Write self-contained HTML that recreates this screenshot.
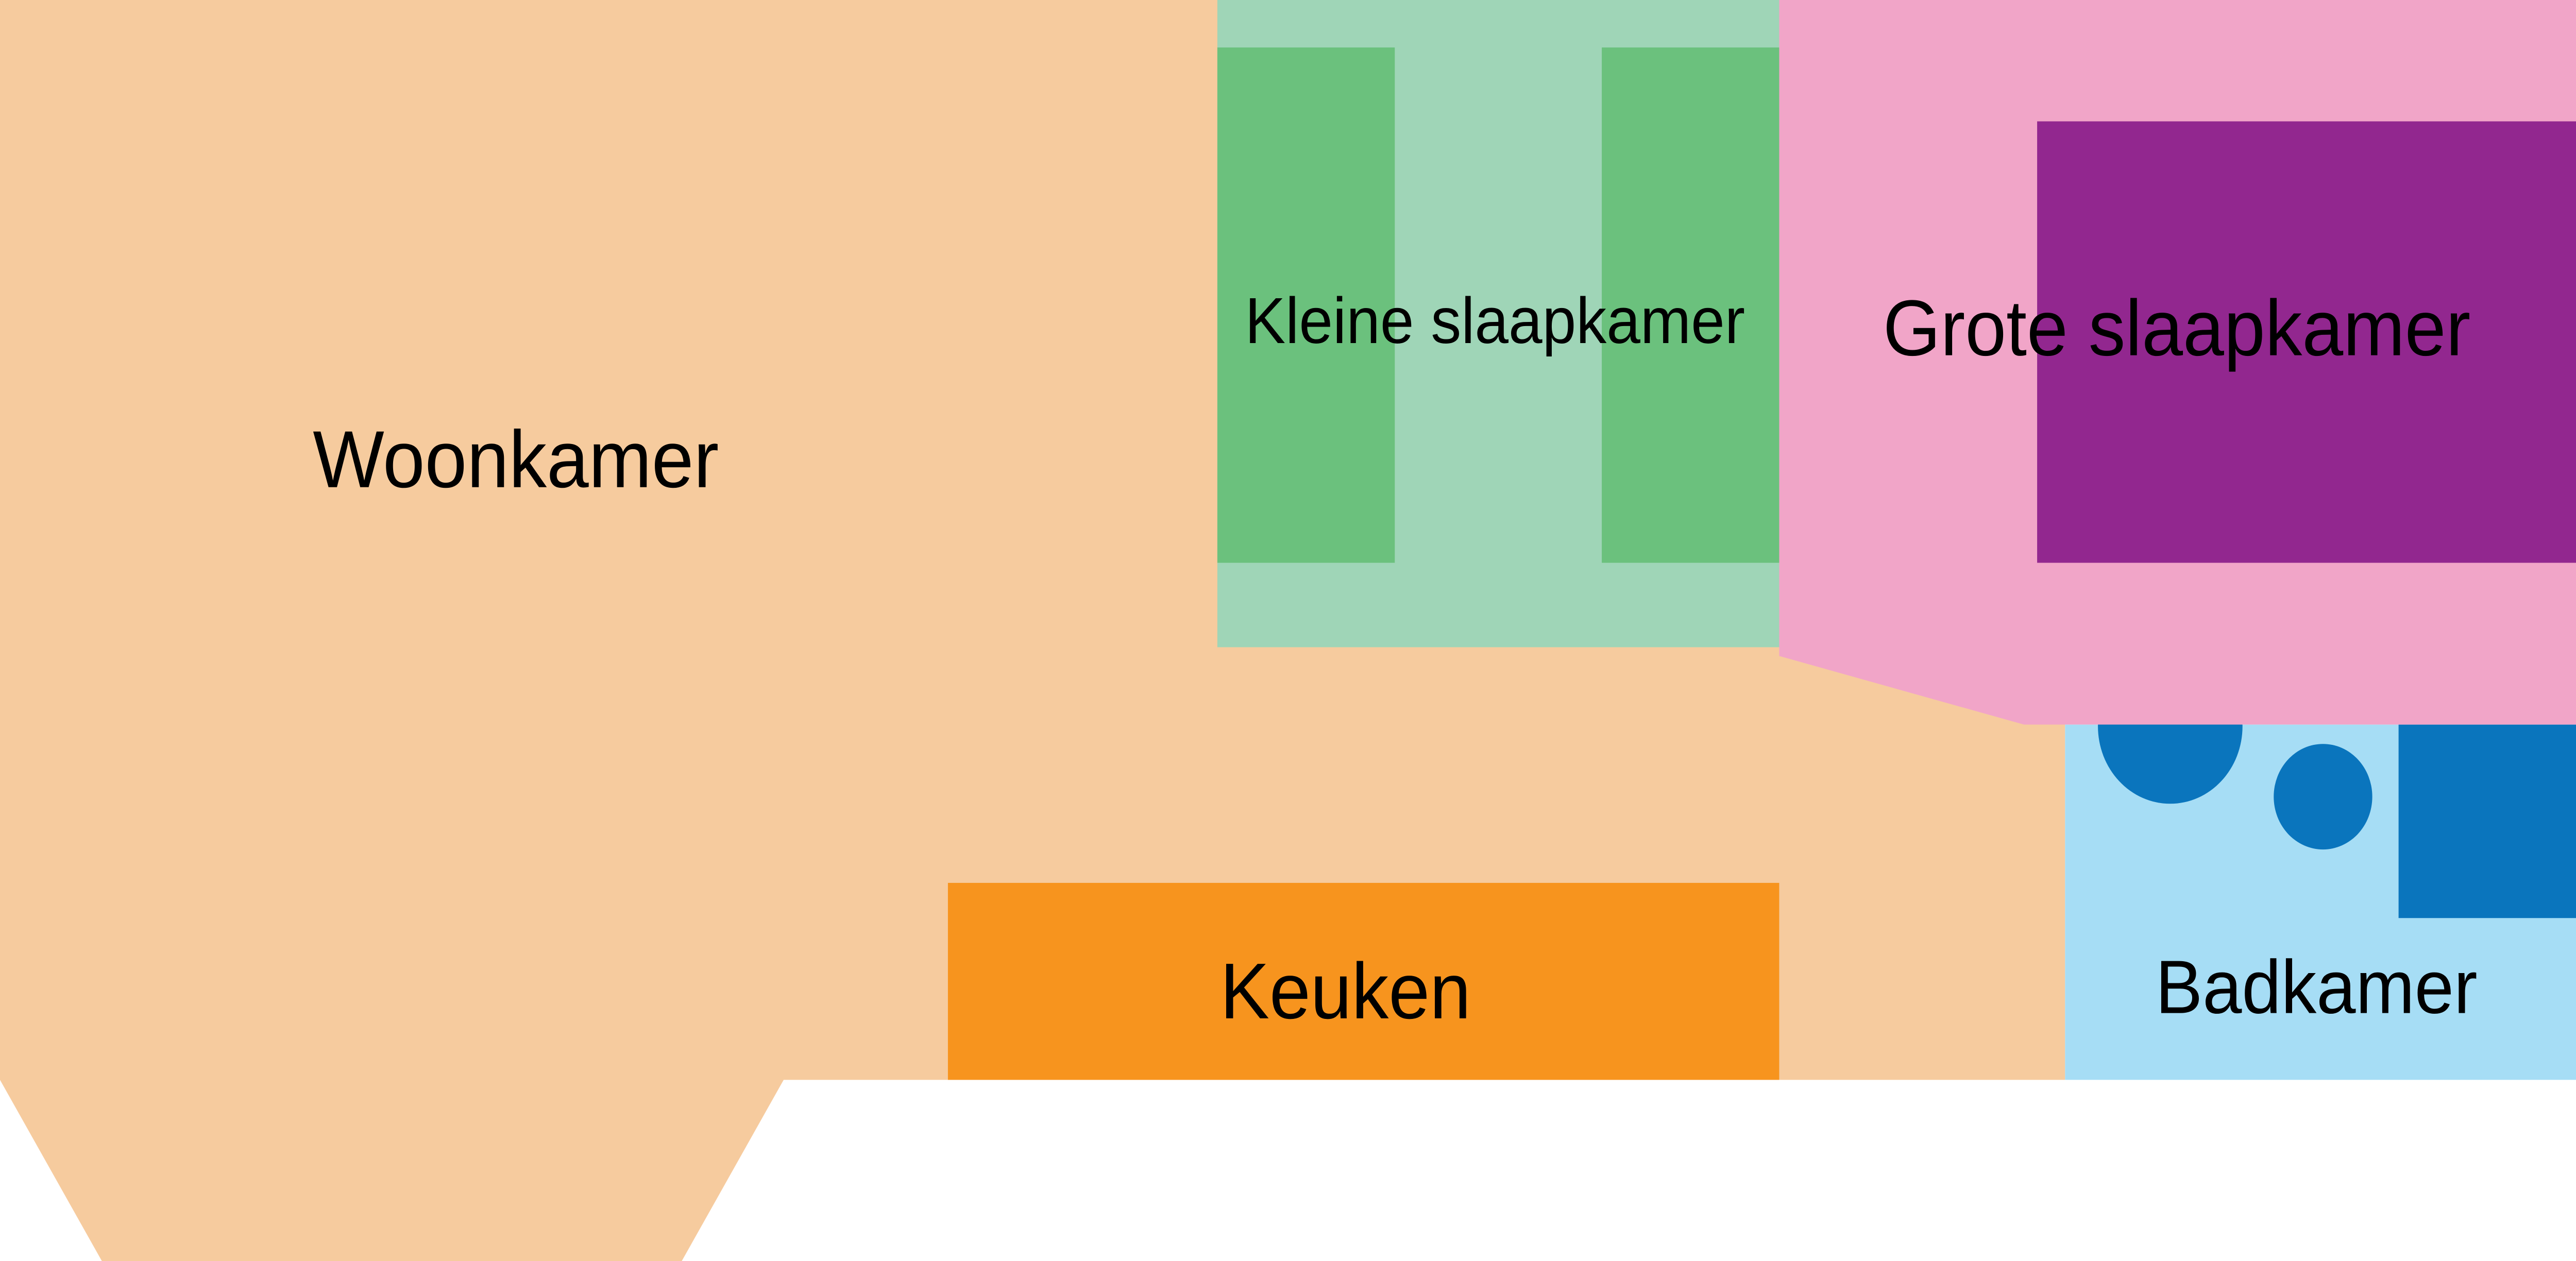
<!DOCTYPE html>
<html><head><meta charset="utf-8"><style>
html,body{margin:0;padding:0;background:#fff;width:100%;height:100%;overflow:hidden;}
svg{display:block;position:fixed;left:0;top:0;width:100vw;height:100vh;}
text{font-family:"Liberation Sans",sans-serif;fill:#000;text-anchor:middle;}
</style></head><body>
<svg viewBox="0 0 1568 717" preserveAspectRatio="none" xmlns="http://www.w3.org/2000/svg">
<rect x="0" y="0" width="1568" height="717" fill="#fff"/>
<polygon points="0,0 1257,0 1257,614 477,614 415,717 62,717 0,614" fill="#F6CB9E"/>
<rect x="741" y="0" width="342" height="368" fill="#9FD5B7"/>
<rect x="741" y="27" width="108" height="293" fill="#6BC17D"/>
<rect x="975" y="27" width="108" height="293" fill="#6BC17D"/>
<rect x="1257" y="412" width="311" height="202" fill="#A6DDF5"/>
<circle cx="1321" cy="413" r="44" fill="#0A75BD"/>
<circle cx="1414" cy="453" r="30" fill="#0A75BD"/>
<rect x="1460" y="412" width="108" height="110" fill="#0A75BD"/>
<polygon points="1083,0 1568,0 1568,412 1232,412 1083,373" fill="#F1A5C8"/>
<rect x="1240" y="69" width="328" height="251" fill="#92278F"/>
<rect x="577" y="502" width="506" height="112" fill="#F7941E"/>
<text x="314" y="277" font-size="46">Woonkamer</text>
<text x="910" y="195" font-size="37">Kleine slaapkamer</text>
<text x="1325" y="202" font-size="45">Grote slaapkamer</text>
<text x="819" y="579" font-size="45">Keuken</text>
<text x="1410" y="576" font-size="43">Badkamer</text>
</svg>
</body></html>
